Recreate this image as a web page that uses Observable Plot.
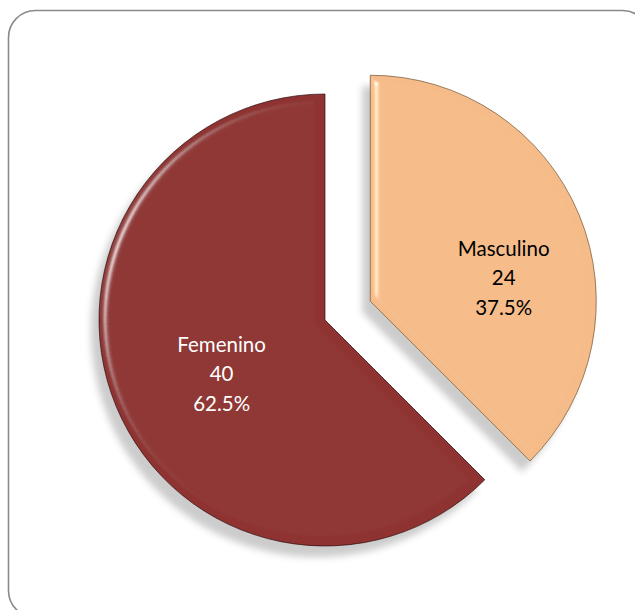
<!DOCTYPE html>
<html>
<head>
<meta charset="utf-8">
<script src="https://cdn.jsdelivr.net/npm/d3@7"></script>
<script src="https://cdn.jsdelivr.net/npm/@observablehq/plot@0.6"></script>
<style>
  html, body { margin: 0; padding: 0; background: #ffffff; }
  #chart svg { display: block; }
</style>
</head>
<body>
<div id="chart"></div>
<script>
// ---- data ----
const categories = ["Masculino", "Femenino"];
const counts = [24, 40];
const percentLabels = ["37.5%", "62.5%"];

// ---- styling / layout constants ----
const sliceColors = ["#f5bc8a", "#8e3331"];
const edgeColors = ["#6a4a2a", "#2a0808"];
const textColors = ["#000000", "#ffffff"];
const exploded = [true, false];
const cx = 325, cy = 320, R = 226, explode = 49;
const labelNudge = [[29, 19], [1, 10]];
const lineGap = 29.5;

const data = categories.map((c, i) => ({
  category: c, count: counts[i], pct: percentLabels[i],
  color: sliceColors[i], edge: edgeColors[i], text: textColors[i],
  exploded: exploded[i], nudge: labelNudge[i]
}));

function pieMark(index, scales, values, dimensions, context) {
  const g = d3.create("svg:g");
  const defs = g.append("defs");
  // drop shadow
  const sh = defs.append("filter").attr("id", "pieShadow")
    .attr("x", "-20%").attr("y", "-20%").attr("width", "140%").attr("height", "140%");
  sh.append("feDropShadow").attr("dx", -8).attr("dy", 11).attr("stdDeviation", 3.5)
    .attr("flood-color", "#000").attr("flood-opacity", 0.2);
  // bevel lighting
  const bv = defs.append("filter").attr("id", "pieBevel")
    .attr("x", "-5%").attr("y", "-5%").attr("width", "110%").attr("height", "110%");
  bv.append("feGaussianBlur").attr("in", "SourceAlpha").attr("stdDeviation", 4).attr("result", "b");
  const sp = bv.append("feSpecularLighting").attr("in", "b").attr("surfaceScale", 6)
    .attr("specularConstant", 1.0).attr("specularExponent", 45)
    .attr("lighting-color", "#ffffff").attr("result", "s");
  sp.append("feDistantLight").attr("azimuth", 200).attr("elevation", 40);
  bv.append("feComposite").attr("in", "s").attr("in2", "SourceAlpha").attr("operator", "in").attr("result", "s2");
  bv.append("feComposite").attr("in", "SourceGraphic").attr("in2", "s2")
    .attr("operator", "arithmetic").attr("k1", 0).attr("k2", 1).attr("k3", 0.5).attr("k4", 0);

  const pie = d3.pie().sort(null).value(d => d.count).startAngle(0).endAngle(2 * Math.PI);
  const arcs = pie(data);
  const arc = d3.arc().innerRadius(0).outerRadius(R);
  const labelArc = d3.arc().innerRadius(R * 0.5).outerRadius(R * 0.5);

  for (const a of arcs) {
    const mid = (a.startAngle + a.endAngle) / 2;
    const off = a.data.exploded ? explode : 0;
    const ox = cx + off * Math.sin(mid), oy = cy - off * Math.cos(mid);
    const sg = g.append("g").attr("transform", `translate(${ox},${oy})`);
    const sh2 = sg.append("g").attr("filter", "url(#pieShadow)");
    sh2.append("path").attr("d", arc(a)).attr("fill", a.data.color)
      .attr("filter", "url(#pieBevel)");
    sg.append("path").attr("d", arc(a)).attr("fill", "none")
      .attr("stroke", a.data.edge).attr("stroke-width", 0.9).attr("stroke-opacity", 0.75);
    const [lx, ly] = labelArc.centroid(a);
    const tx = lx + a.data.nudge[0], ty = ly + a.data.nudge[1];
    const lines = [a.data.category, String(a.data.count), a.data.pct];
    lines.forEach((s, i) => {
      sg.append("text")
        .attr("x", tx).attr("y", ty + (i - 1) * lineGap)
        .attr("text-anchor", "middle").attr("dominant-baseline", "central")
        .attr("fill", a.data.text)
        .attr("font-family", "Lato, 'Open Sans', sans-serif").attr("font-size", 20.5)
        .text(s);
    });
  }
  return g.node();
}

const chart = Plot.plot({
  width: 635,
  height: 610,
  marginTop: 10,
  marginLeft: 8,
  marginRight: -14,
  marginBottom: -7,
  style: { background: "#ffffff", overflow: "hidden" },
  marks: [
    Plot.frame({ rx: 27, stroke: "#8a8a8a", strokeWidth: 1.6 }),
    pieMark
  ]
});
document.getElementById("chart").appendChild(chart);
</script>
</body>
</html>
